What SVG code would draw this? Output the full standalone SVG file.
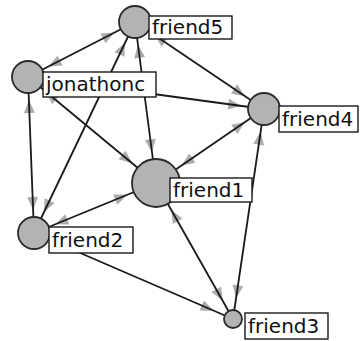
<svg xmlns="http://www.w3.org/2000/svg" width="360" height="341" viewBox="0 0 360 341">
<style>
.ar{fill:none;stroke:none}
.ln{fill:none;stroke:#1a1a1a;stroke-width:1.8}
.nd circle{fill:#b3b3b3;stroke:#2a2a2a;stroke-width:1.8}
.nd rect{fill:#fff;stroke:#1a1a1a;stroke-width:1.4}
.nd text{font-family:"DejaVu Sans",sans-serif;font-size:20px;fill:#111}
</style>
<defs>
<marker id="m24" markerUnits="userSpaceOnUse" orient="auto-start-reverse" refX="31" refY="0" markerWidth="1" markerHeight="1" overflow="visible"><path d="M0,0 L-13,-5.5 L-13,5.5 Z" fill="#acacac"/></marker>
<marker id="m16" markerUnits="userSpaceOnUse" orient="auto-start-reverse" refX="23" refY="0" markerWidth="1" markerHeight="1" overflow="visible"><path d="M0,0 L-13,-5.5 L-13,5.5 Z" fill="#acacac"/></marker>
<marker id="m9" markerUnits="userSpaceOnUse" orient="auto-start-reverse" refX="21" refY="0" markerWidth="1" markerHeight="1" overflow="visible"><path d="M0,0 L-13,-5.5 L-13,5.5 Z" fill="#acacac"/></marker>
</defs>
<rect width="360" height="341" fill="#fff"/>
<g id="connectors">
<g id="arrowheads">
<path class="ar" d="M28,77 L135,22" marker-start="url(#m16)" marker-end="url(#m16)"/>
<path class="ar" d="M28,77 L264,109" marker-end="url(#m16)"/>
<path class="ar" d="M28,77 L34,233" marker-start="url(#m16)" marker-end="url(#m16)"/>
<path class="ar" d="M28,77 L156,183" marker-start="url(#m16)" marker-end="url(#m24)"/>
<path class="ar" d="M34,233 L135,22" marker-start="url(#m16)" marker-end="url(#m16)"/>
<path class="ar" d="M156,183 L135,22" marker-start="url(#m24)" marker-end="url(#m16)"/>
<path class="ar" d="M135,22 L264,109" marker-start="url(#m16)" marker-end="url(#m16)"/>
<path class="ar" d="M156,183 L34,233" marker-start="url(#m24)" marker-end="url(#m16)"/>
<path class="ar" d="M156,183 L264,109" marker-start="url(#m24)" marker-end="url(#m16)"/>
<path class="ar" d="M264,109 L233,319" marker-start="url(#m16)" marker-end="url(#m9)"/>
<path class="ar" d="M156,183 L233,319" marker-start="url(#m24)" marker-end="url(#m9)"/>
<path class="ar" d="M34,233 L233,319" marker-end="url(#m9)"/>
</g>
<g id="lines">
<path class="ln" d="M28,77 L135,22"/>
<path class="ln" d="M28,77 L264,109"/>
<path class="ln" d="M28,77 L34,233"/>
<path class="ln" d="M28,77 L156,183"/>
<path class="ln" d="M34,233 L135,22"/>
<path class="ln" d="M156,183 L135,22"/>
<path class="ln" d="M135,22 L264,109"/>
<path class="ln" d="M156,183 L34,233"/>
<path class="ln" d="M156,183 L264,109"/>
<path class="ln" d="M264,109 L233,319"/>
<path class="ln" d="M156,183 L233,319"/>
<path class="ln" d="M34,233 L233,319"/>
</g>
</g>
<g id="friend5" class="nd"><circle cx="135" cy="22" r="16"/><rect x="149" y="16" width="83" height="23"/><text x="152" y="34">friend5</text></g>
<g id="jonathonc" class="nd"><circle cx="28" cy="77" r="16"/><rect x="43" y="72" width="113" height="25"/><text x="46" y="91">jonathonc</text></g>
<g id="friend4" class="nd"><circle cx="264" cy="109" r="16"/><rect x="279" y="106" width="79" height="26"/><text x="282" y="126">friend4</text></g>
<g id="friend1" class="nd"><circle cx="156" cy="183" r="24"/><rect x="170" y="178" width="82" height="24"/><text x="173" y="197">friend1</text></g>
<g id="friend2" class="nd"><circle cx="34" cy="233" r="16"/><rect x="49" y="227" width="84" height="26"/><text x="52" y="247">friend2</text></g>
<g id="friend3" class="nd"><circle cx="233" cy="319" r="9"/><rect x="245" y="313" width="83" height="26"/><text x="248" y="333">friend3</text></g>
</svg>
